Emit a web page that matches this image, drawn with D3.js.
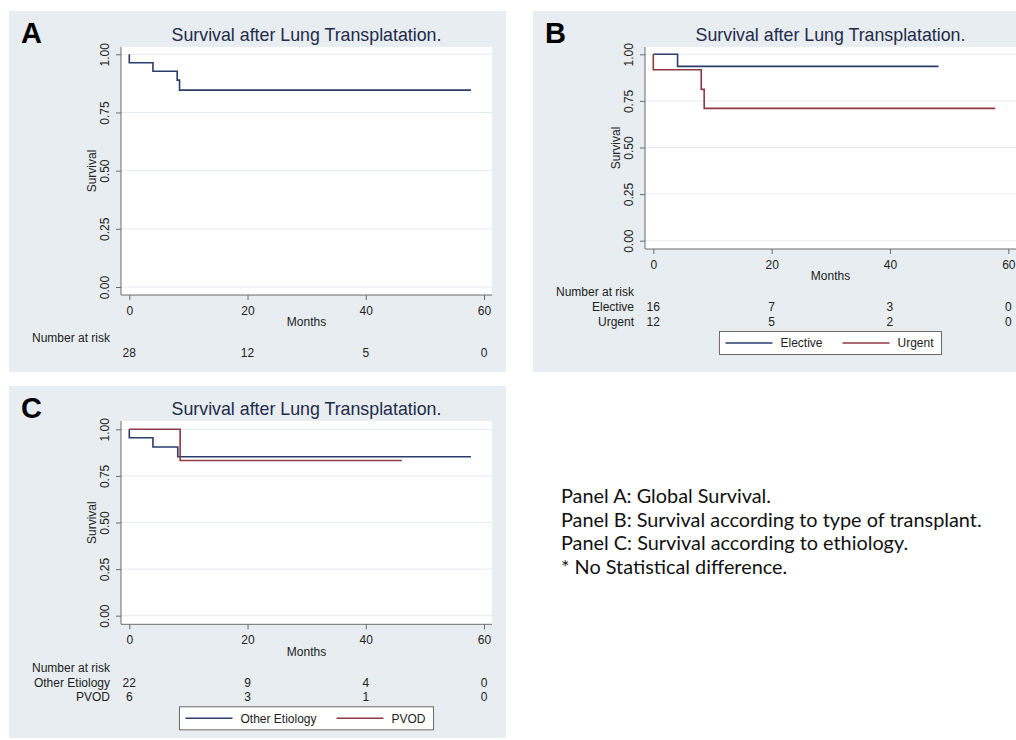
<!DOCTYPE html>
<html>
<head>
<meta charset="utf-8">
<script src="https://cdn.jsdelivr.net/npm/d3@7"></script>
<style>
  body { margin: 0; background: #fff; }
  svg { display: block; }
</style>
</head>
<body>
<div id="chart"></div>
<script>
(function() {
  const monthTicks = [0, 20, 40, 60];
  const survTicks = [0, 0.25, 0.5, 0.75, 1];

  // Panel A - all patients
  const globalTime = [0, 0, 4, 8.1, 8.5, 57.8];
  const globalSurv = [1, 0.964, 0.927, 0.889, 0.846, 0.846];
  const globalRisk = [28, 12, 5, 0];

  // Panel B - type of transplant
  const electiveTime = [0, 4.1, 48.2];
  const electiveSurv = [1, 0.935, 0.935];
  const electiveRisk = [16, 7, 3, 0];
  const urgentTime = [0, 0, 8.1, 8.6, 57.8];
  const urgentSurv = [1, 0.917, 0.812, 0.71, 0.71];
  const urgentRisk = [12, 5, 2, 0];

  // Panel C - etiology
  const otherTime = [0, 0, 4, 8.2, 57.8];
  const otherSurv = [1, 0.955, 0.905, 0.853, 0.853];
  const otherRisk = [22, 9, 4, 0];
  const pvodTime = [0, 8.6, 46.1];
  const pvodSurv = [1, 0.833, 0.833];
  const pvodRisk = [6, 3, 1, 0];

  const notes = [
    "Panel A: Global Survival.",
    "Panel B: Survival according to type of transplant.",
    "Panel C: Survival according to ethiology.",
    "* No Statistical difference."
  ];

  const NAVY = "#2a3c69";
  const MAROON = "#8e3840";
  const AXIS = "#6a6a6a";
  const FONT = "Arial, 'Liberation Sans', sans-serif";

  const svg = d3.select("#chart").append("svg")
    .attr("width", 1016)
    .attr("height", 740)
    .style("font-family", FONT);

  const zip = (t, s) => t.map((v, i) => [v, s[i]]);

  const panels = [
    {
      letter: "A",
      bg: { x: 9, y: 11, w: 497, h: 361 },
      left: 121, right: 492, top: 47, axisY: 295,
      y0: 287, y1: 54.3, x0: 129.3, x60: 484,
      series: [{ name: "All", pts: zip(globalTime, globalSurv), color: NAVY, risk: globalRisk }],
      rowLabels: false, legend: false
    },
    {
      letter: "B",
      bg: { x: 533, y: 11, w: 483, h: 361 },
      left: 645, right: 1016, top: 47, axisY: 249,
      y0: 240.7, y1: 54.3, x0: 653.3, x60: 1008.3,
      series: [
        { name: "Elective", pts: zip(electiveTime, electiveSurv), color: NAVY, risk: electiveRisk },
        { name: "Urgent", pts: zip(urgentTime, urgentSurv), color: MAROON, risk: urgentRisk }
      ],
      rowLabels: true, legend: true
    },
    {
      letter: "C",
      bg: { x: 9, y: 386, w: 497, h: 352 },
      left: 121, right: 492, top: 421, axisY: 624.3,
      y0: 615.7, y1: 429.3, x0: 129.3, x60: 484,
      series: [
        { name: "Other Etiology", pts: zip(otherTime, otherSurv), color: NAVY, risk: otherRisk },
        { name: "PVOD", pts: zip(pvodTime, pvodSurv), color: MAROON, risk: pvodRisk }
      ],
      rowLabels: true, legend: true
    }
  ];

  function drawPanel(p) {
    const g = svg.append("g");

    g.append("rect")
      .attr("x", p.bg.x).attr("y", p.bg.y)
      .attr("width", p.bg.w).attr("height", p.bg.h)
      .attr("fill", "#e7edf0");

    g.append("rect")
      .attr("x", p.left).attr("y", p.top)
      .attr("width", p.right - p.left).attr("height", p.axisY - p.top)
      .attr("fill", "#fff");

    const x = d3.scaleLinear().domain([0, 60]).range([p.x0, p.x60]);
    const y = d3.scaleLinear().domain([0, 1]).range([p.y0, p.y1]);

    // grid
    g.selectAll(".grid")
      .data(survTicks)
      .join("line")
      .attr("x1", p.left).attr("x2", p.right)
      .attr("y1", d => y(d)).attr("y2", d => y(d))
      .attr("stroke", "#e3ebee")
      .attr("stroke-width", 1);

    // y axis
    const yAxis = g.append("g")
      .attr("transform", `translate(${p.left},0)`)
      .call(d3.axisLeft(y).tickValues(survTicks).tickFormat(d3.format(".2f")).tickSize(5));
    yAxis.select(".domain").remove();
    yAxis.selectAll("line").attr("stroke", AXIS);
    yAxis.selectAll("text")
      .attr("transform", "rotate(-90)")
      .attr("x", 0)
      .attr("y", -16)
      .attr("dy", "0.35em")
      .attr("text-anchor", "middle")
      .attr("fill", "#222")
      .style("font-size", "12px")
      .style("font-family", FONT);

    // x axis
    const xAxis = g.append("g")
      .attr("transform", `translate(0,${p.axisY})`)
      .call(d3.axisBottom(x).tickValues(monthTicks).tickSize(5).tickPadding(6));
    xAxis.select(".domain").remove();
    xAxis.selectAll("line").attr("stroke", AXIS);
    xAxis.selectAll("text")
      .attr("fill", "#222")
      .style("font-size", "12px")
      .style("font-family", FONT);

    // axis lines
    g.append("line")
      .attr("x1", p.left).attr("x2", p.left)
      .attr("y1", p.top).attr("y2", p.axisY)
      .attr("stroke", AXIS);
    g.append("line")
      .attr("x1", p.left).attr("x2", p.right)
      .attr("y1", p.axisY).attr("y2", p.axisY)
      .attr("stroke", AXIS);

    // survival curves
    const line = d3.line()
      .x(d => x(d[0]))
      .y(d => y(d[1]))
      .curve(d3.curveStepAfter);

    g.selectAll(".curve")
      .data(p.series)
      .join("path")
      .attr("d", d => line(d.pts))
      .attr("fill", "none")
      .attr("stroke", d => d.color)
      .attr("stroke-width", 1.6);

    const midX = (p.left + p.right) / 2;

    // titles and labels
    g.append("text")
      .attr("x", (p.left + Math.min(p.right, p.left + 371)) / 2)
      .attr("y", p.top - 6.5)
      .attr("text-anchor", "middle")
      .attr("fill", "#1f2b4a")
      .style("font-size", "17.8px")
      .text("Survival after Lung Transplatation.");

    g.append("text")
      .attr("x", p.bg.x + 12)
      .attr("y", p.bg.y + 32)
      .attr("font-weight", "bold")
      .style("font-size", "29px")
      .attr("fill", "#000")
      .text(p.letter);

    g.append("text")
      .attr("transform", `translate(${p.left - 29},${(p.top + p.axisY) / 2}) rotate(-90)`)
      .attr("text-anchor", "middle")
      .attr("dy", "0.35em")
      .attr("fill", "#222")
      .style("font-size", "12px")
      .text("Survival");

    g.append("text")
      .attr("x", midX)
      .attr("y", p.axisY + 27)
      .attr("dy", "0.35em")
      .attr("text-anchor", "middle")
      .attr("fill", "#222")
      .style("font-size", "12px")
      .text("Months");

    // number at risk table
    g.append("text")
      .attr("x", p.left - 11)
      .attr("y", p.axisY + 43)
      .attr("dy", "0.35em")
      .attr("text-anchor", "end")
      .attr("fill", "#222")
      .style("font-size", "12px")
      .text("Number at risk");

    p.series.forEach((s, i) => {
      const rowY = p.axisY + 58 + i * 14.3;
      if (p.rowLabels) {
        g.append("text")
          .attr("x", p.left - 11)
          .attr("y", rowY)
          .attr("dy", "0.35em")
          .attr("text-anchor", "end")
          .attr("fill", "#222")
          .style("font-size", "12px")
          .text(s.name);
      }
      g.selectAll(null)
        .data(s.risk)
        .join("text")
        .attr("x", (d, j) => x(monthTicks[j]))
        .attr("y", rowY)
        .attr("dy", "0.35em")
        .attr("text-anchor", "middle")
        .attr("fill", "#222")
        .style("font-size", "12px")
        .text(d => d);
    });

    // legend
    if (p.legend) {
      const lg = g.append("g");
      const cy = p.axisY + 94;
      const widths = p.series.map(s => {
        const t = lg.append("text").style("font-size", "12px").text(s.name);
        const w = t.node().getComputedTextLength();
        t.remove();
        return w;
      });
      const colW = 47 + 8 + d3.max(widths) + 20;
      const n = p.series.length;
      const boxW = 6 + colW * (n - 1) + 55 + widths[n - 1] + 8;
      const bx = midX - boxW / 2;
      lg.append("rect")
        .attr("x", bx).attr("y", cy - 11.5)
        .attr("width", boxW).attr("height", 23)
        .attr("fill", "#fff")
        .attr("stroke", "#6a6a6a");
      p.series.forEach((s, i) => {
        const sx = bx + 6 + i * colW;
        lg.append("line")
          .attr("x1", sx).attr("x2", sx + 47)
          .attr("y1", cy).attr("y2", cy)
          .attr("stroke", s.color)
          .attr("stroke-width", 1.6);
        lg.append("text")
          .attr("x", sx + 55)
          .attr("y", cy)
          .attr("dy", "0.35em")
          .attr("fill", "#222")
          .style("font-size", "12px")
          .text(s.name);
      });
    }
  }

  panels.forEach(drawPanel);

  // side notes
  const noteG = svg.append("g").style("font-family", "Lato, 'Open Sans', sans-serif");
  const probe = noteG.append("text").style("font-size", "18px").text(notes[0]);
  const noteSize = 18 * 210 / probe.node().getComputedTextLength();
  probe.remove();

  noteG.selectAll("text")
    .data(notes)
    .join("text")
    .attr("x", 561)
    .attr("y", (d, i) => 503 + i * 23.7)
    .attr("fill", "#111")
    .style("font-size", noteSize + "px")
    .text(d => d);
})();
</script>
</body>
</html>
